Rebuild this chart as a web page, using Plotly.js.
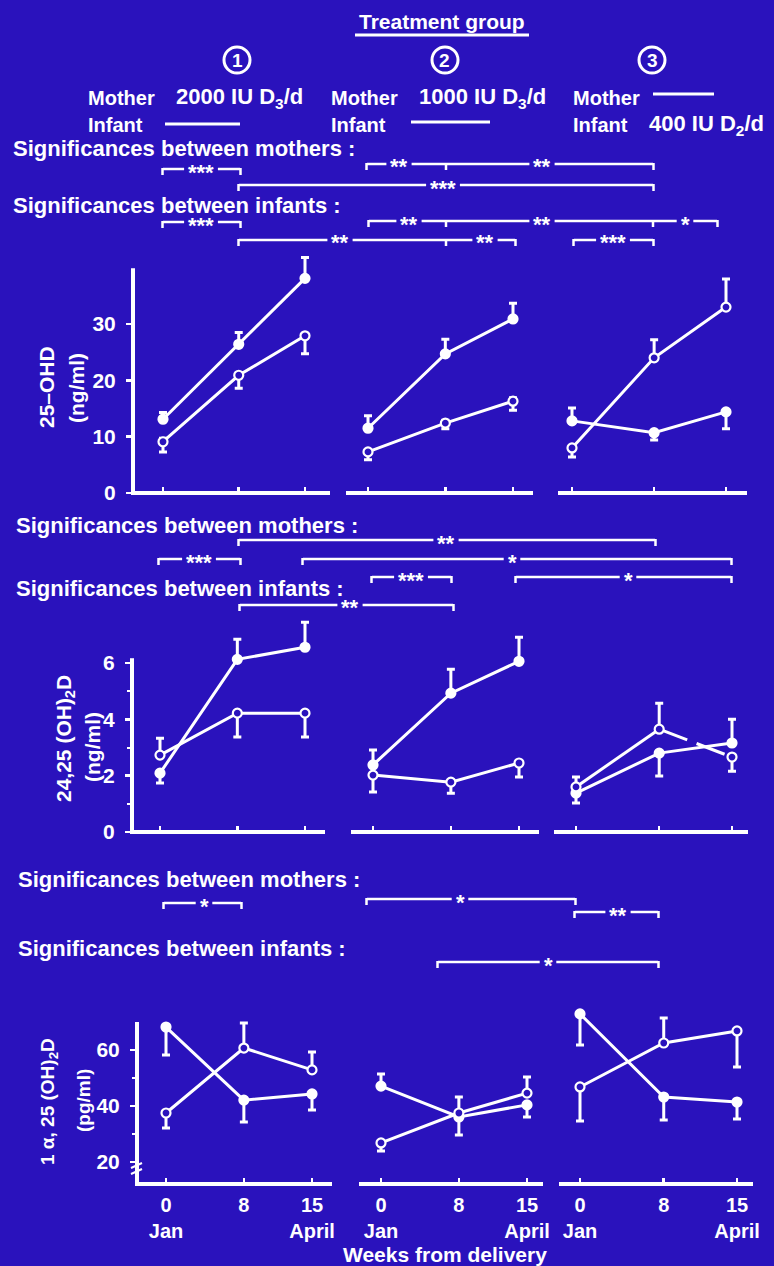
<!DOCTYPE html>
<html><head><meta charset="utf-8">
<script src="https://cdn.plot.ly/plotly-3.0.1.min.js"></script>
<style>html,body{margin:0;padding:0;background:#2a12bc;}#chart{width:774px;height:1266px;}</style>
</head><body><div id="chart"></div>
<script>
// ---------------- DATA ----------------
const WEEKS = [0, 8, 15];
const WEEK_TICK_TEXT = ['0<br>Jan', '8', '15<br>April'];
const GROUP_NUMBERS = ['1', '2', '3'];

// 25-OHD (ng/ml)
const ohdMotherG1 = [13.1, 26.4, 38.1], ohdMotherG1Up = [1.2, 2.1, 3.7], ohdMotherG1Down = [0, 0, 0];
const ohdInfantG1 = [9.1, 20.9, 27.9], ohdInfantG1Up = [0.6, 0, 0], ohdInfantG1Down = [1.8, 2.3, 3.2];
const ohdMotherG2 = [11.5, 24.7, 30.9], ohdMotherG2Up = [2.2, 2.6, 2.8], ohdMotherG2Down = [0, 0, 0];
const ohdInfantG2 = [7.3, 12.4, 16.3], ohdInfantG2Up = [0, 0.5, 0.6], ohdInfantG2Down = [1.4, 1.0, 1.6];
const ohdMotherG3 = [12.8, 10.7, 14.4], ohdMotherG3Up = [2.3, 0, 0], ohdMotherG3Down = [0, 1.3, 3.0];
const ohdInfantG3 = [8.0, 24.0, 33.0], ohdInfantG3Up = [0, 3.2, 5.0], ohdInfantG3Down = [1.6, 0, 0];

// 24,25(OH)2D (ng/ml)
const dhdMotherG1 = [2.09, 6.13, 6.56], dhdMotherG1Up = [0, 0.71, 0.89], dhdMotherG1Down = [0.35, 0, 0];
const dhdInfantG1 = [2.73, 4.22, 4.22], dhdInfantG1Up = [0.6, 0, 0], dhdInfantG1Down = [0, 0.85, 0.85];
const dhdMotherG2 = [2.38, 4.93, 6.06], dhdMotherG2Up = [0.53, 0.85, 0.85], dhdMotherG2Down = [0, 0, 0];
const dhdInfantG2 = [2.02, 1.77, 2.45], dhdInfantG2Up = [0, 0, 0], dhdInfantG2Down = [0.6, 0.39, 0.5];
const dhdMotherG3 = [1.38, 2.8, 3.16], dhdMotherG3Up = [0, 0, 0.84], dhdMotherG3Down = [0.35, 0.81, 0];
const dhdInfantG3 = [1.6, 3.65, 2.66], dhdInfantG3Up = [0.35, 0.92, 0], dhdInfantG3Down = [0, 0, 0.5];

// 1a,25(OH)2D (pg/ml)
const calMotherG1 = [68.2, 42.1, 44.3], calMotherG1Up = [0, 0, 0], calMotherG1Down = [10, 7.8, 5.7];
const calInfantG1 = [37.5, 60.7, 52.9], calInfantG1Up = [0, 8.9, 6.4], calInfantG1Down = [5.4, 0, 0];
const calMotherG2 = [47.1, 36.1, 40.4], calMotherG2Up = [4.3, 0, 0], calMotherG2Down = [0, 6.5, 4.3];
const calInfantG2 = [26.8, 37.5, 44.6], calInfantG2Up = [0, 5.7, 5.8], calInfantG2Down = [2.9, 0, 0];
const calMotherG3 = [72.9, 43.2, 41.4], calMotherG3Up = [0, 0, 0], calMotherG3Down = [11.1, 8.2, 6.0];
const calInfantG3 = [46.8, 62.5, 66.8], calInfantG3Up = [0, 8.9, 0], calInfantG3Down = [12.2, 0, 12.9];

const Y_TITLES = [['25–OHD', '(ng/ml)'], ['24,25 (OH)<sub>2</sub>D', '(ng/ml)'], ['1 α, 25 (OH)<sub>2</sub>D', '(pg/ml)']];
const Y_TICKS = [[0, 10, 20, 30], [0, 2, 4, 6], [20, 40, 60]];
const Y_MINOR = [[], [1, 3, 5], [30, 50]];

// ---------------- LAYOUT GEOMETRY ----------------
const W = 774, H = 1266;
const BG = '#2a12bc', FG = '#ffffff';
const FONT = 'Liberation Sans, Arial, sans-serif';
const px = x => x / W, py = y => 1 - y / H;

const ROWS = [
  {v1: 0, p1: 493, v2: 30, p2: 324, bottom: 493, top: 250, axisTop: 39.9},
  {v1: 0, p1: 832, v2: 6, p2: 663, bottom: 832, top: 612, axisTop: 6.17},
  {v1: 20, p1: 1162, v2: 60, p2: 1050, bottom: 1184, top: 1005, axisTop: 70}
];
const COLS = [
  [{p0: 163, p15: 305, L: 133, R: 330}, {p0: 368, p15: 513, L: 348, R: 533}, {p0: 572, p15: 726, L: 560, R: 747}],
  [{p0: 160, p15: 305, L: 132, R: 325}, {p0: 373, p15: 519, L: 353, R: 539}, {p0: 576, p15: 732, L: 556, R: 748}],
  [{p0: 166, p15: 312, L: 137, R: 332}, {p0: 381, p15: 527, L: 361, R: 543}, {p0: 580, p15: 737, L: 561, R: 753}]
];
const valAt = (r, p) => r.v1 + (r.p1 - p) * (r.v2 - r.v1) / (r.p1 - r.p2);

const SERIES = [
  [0, 0, true, ohdMotherG1, ohdMotherG1Up, ohdMotherG1Down], [0, 0, false, ohdInfantG1, ohdInfantG1Up, ohdInfantG1Down],
  [0, 1, true, ohdMotherG2, ohdMotherG2Up, ohdMotherG2Down], [0, 1, false, ohdInfantG2, ohdInfantG2Up, ohdInfantG2Down],
  [0, 2, true, ohdMotherG3, ohdMotherG3Up, ohdMotherG3Down], [0, 2, false, ohdInfantG3, ohdInfantG3Up, ohdInfantG3Down],
  [1, 0, true, dhdMotherG1, dhdMotherG1Up, dhdMotherG1Down], [1, 0, false, dhdInfantG1, dhdInfantG1Up, dhdInfantG1Down],
  [1, 1, true, dhdMotherG2, dhdMotherG2Up, dhdMotherG2Down], [1, 1, false, dhdInfantG2, dhdInfantG2Up, dhdInfantG2Down],
  [1, 2, true, dhdMotherG3, dhdMotherG3Up, dhdMotherG3Down], [1, 2, false, dhdInfantG3, dhdInfantG3Up, dhdInfantG3Down, 1],
  [2, 0, true, calMotherG1, calMotherG1Up, calMotherG1Down], [2, 0, false, calInfantG1, calInfantG1Up, calInfantG1Down],
  [2, 1, true, calMotherG2, calMotherG2Up, calMotherG2Down], [2, 1, false, calInfantG2, calInfantG2Up, calInfantG2Down],
  [2, 2, true, calMotherG3, calMotherG3Up, calMotherG3Down], [2, 2, false, calInfantG3, calInfantG3Up, calInfantG3Down]
];

const layout = {
  width: W, height: H, margin: {l: 0, r: 0, t: 0, b: 0},
  paper_bgcolor: BG, plot_bgcolor: BG, showlegend: false,
  font: {family: FONT, color: FG, size: 19, weight: 'bold'},
  shapes: [], annotations: []
};
const traces = [];
const sfx = n => (n === 1 ? '' : String(n));

for (let r = 0; r < 3; r++) {
  const R = ROWS[r];
  const yr = [valAt(R, R.bottom), valAt(R, R.top)];
  for (let c = 0; c < 3; c++) {
    const n = r * 3 + c + 1, C = COLS[r][c];
    const s = (C.p15 - C.p0) / 15;
    const xr = [(C.L - C.p0) / s, (C.R - C.p0) / s];
    layout['xaxis' + sfx(n)] = {
      domain: [px(C.L), px(C.R)], range: xr, anchor: 'y' + sfx(n),
      showline: false, zeroline: false, showgrid: false, fixedrange: true,
      tickmode: 'array', tickvals: WEEKS, ticktext: WEEK_TICK_TEXT,
      showticklabels: r === 2, ticks: 'inside', ticklen: 6, tickwidth: 2.5, tickcolor: FG,
      tickfont: {family: FONT, size: 20, color: FG, weight: 'bold'}, ticklabelstandoff: 7
    };
    const yax = {
      domain: [py(R.bottom), py(R.top)], range: yr, anchor: 'x' + sfx(n),
      showline: false, zeroline: false, showgrid: false, fixedrange: true
    };
    if (c === 0) {
      Object.assign(yax, {
        tickmode: 'array', tickvals: Y_TICKS[r], ticks: 'outside', ticklen: 6, tickwidth: 2.5, tickcolor: FG,
        tickfont: {family: FONT, size: 21, color: FG, weight: 'bold'}, ticklabelstandoff: 6,
        minor: {tickvals: Y_MINOR[r], ticks: 'outside', ticklen: 4, tickwidth: 2, tickcolor: FG}
      });
      layout.shapes.push({type: 'line', xref: 'x' + sfx(n) + ' domain', yref: 'y' + sfx(n) + ' domain',
        x0: 0, x1: 0, y0: 0, y1: (R.axisTop - yr[0]) / (yr[1] - yr[0]), line: {color: FG, width: 4}});
    } else {
      Object.assign(yax, {showticklabels: false, ticks: ''});
    }
    layout['yaxis' + sfx(n)] = yax;
    layout.shapes.push({type: 'line', xref: 'x' + sfx(n) + ' domain', yref: 'y' + sfx(n) + ' domain',
      x0: -2 / (C.R - C.L), x1: 1, y0: 0, y1: 0, line: {color: FG, width: 4}});
  }
}

SERIES.forEach(([r, c, mother, y, up, down, dashFrom]) => {
  const n = r * 3 + c + 1;
  const xa = 'x' + sfx(n), ya = 'y' + sfx(n);
  if (dashFrom !== undefined) {
    traces.push({type: 'scatter', mode: 'lines', x: WEEKS.slice(0, dashFrom + 1), y: y.slice(0, dashFrom + 1),
      xaxis: xa, yaxis: ya, line: {color: FG, width: 3}, hoverinfo: 'skip'});
    traces.push({type: 'scatter', mode: 'lines', x: WEEKS.slice(dashFrom), y: y.slice(dashFrom),
      xaxis: xa, yaxis: ya, line: {color: FG, width: 3, dash: '30px,10px'}, hoverinfo: 'skip'});
  }
  traces.push({
    type: 'scatter', mode: dashFrom !== undefined ? 'markers' : 'lines+markers',
    x: WEEKS, y: y, xaxis: xa, yaxis: ya, hoverinfo: 'skip',
    name: mother ? 'Mother' : 'Infant',
    line: {color: FG, width: 3},
    marker: {symbol: 'circle', size: 9, color: mother ? FG : BG, line: {color: FG, width: 2.2}},
    error_y: {type: 'data', symmetric: false, array: up, arrayminus: down, color: FG, thickness: 3, width: 4}
  });
});

// ---------------- ANNOTATIONS / DECOR ----------------
const A = layout.annotations, S = layout.shapes;
function txt(text, x, y, opts = {}) {
  A.push(Object.assign({xref: 'paper', yref: 'paper', x: px(x), y: py(y), text: text, showarrow: false,
    xanchor: 'center', yanchor: 'middle', font: {family: FONT, size: 20, color: FG, weight: 'bold'}}, opts));
}
function hline(x0, x1, y, w = 2.5) {
  S.push({type: 'line', xref: 'paper', yref: 'paper', x0: px(x0), x1: px(x1), y0: py(y), y1: py(y), line: {color: FG, width: w}});
}
function vline(x, y0, y1, w = 2.5) {
  S.push({type: 'line', xref: 'paper', yref: 'paper', x0: px(x), x1: px(x), y0: py(y0), y1: py(y1), line: {color: FG, width: w}});
}
const STAR_SIZE = 22;
function bracket(x0, x1, y, labels, mids = []) {
  const gaps = labels.map(([t, x]) => [x - t.length * 4.3 - 4, x + t.length * 4.3 + 4]).sort((a, b) => a[0] - b[0]);
  let cur = x0;
  gaps.forEach(([g0, g1]) => { if (g0 > cur) hline(cur, g0, y); cur = Math.max(cur, g1); });
  if (cur < x1) hline(cur, x1, y);
  vline(x0 - 0.5, y - 1, y + 6); vline(x1 + 0.5, y - 1, y + 6);
  mids.forEach(m => vline(m, y, y + 6));
  labels.forEach(([t, x]) => txt(t, x, y, {font: {family: FONT, size: STAR_SIZE, color: FG, weight: 'bold'}, yshift: -3}));
}

// Header
txt('Treatment group', 442, 21, {font: {family: FONT, size: 21, color: FG, weight: 'bold'}});
hline(355, 529, 35, 3);
[[237, 60], [445, 60], [652, 60]].forEach(([cx, cy], i) => {
  S.push({type: 'circle', xref: 'paper', yref: 'paper', x0: px(cx - 13), x1: px(cx + 13), y0: py(cy + 13), y1: py(cy - 13), line: {color: FG, width: 3}});
  txt(GROUP_NUMBERS[i], cx, cy + 1, {font: {family: FONT, size: 19, color: FG, weight: 'bold'}});
});
const DOSE_FONT = {family: FONT, size: 22, color: FG, weight: 'bold'};
txt('Mother', 86, 98, {xanchor: 'left'});
txt('2000 IU D<sub>3</sub>/d', 305, 98, {xanchor: 'right', font: DOSE_FONT});
txt('Infant', 86, 125, {xanchor: 'left'});
hline(165, 240, 124, 3);
txt('Mother', 329, 98, {xanchor: 'left'});
txt('1000 IU D<sub>3</sub>/d', 548, 98, {xanchor: 'right', font: DOSE_FONT});
txt('Infant', 329, 125, {xanchor: 'left'});
hline(411, 490, 122, 3);
txt('Mother', 571, 98, {xanchor: 'left'});
hline(653, 714, 94, 3);
txt('Infant', 571, 125, {xanchor: 'left'});
txt('400 IU D<sub>2</sub>/d', 766, 125, {xanchor: 'right', font: DOSE_FONT});

const SIG_FONT = {family: FONT, size: 22, color: FG, weight: 'bold'};
// Top significance block (25-OHD)
txt('Significances between mothers :', 11, 149, {xanchor: 'left', font: SIG_FONT});
bracket(163, 240, 169, [['***', 201]]);
bracket(367, 653, 164, [['**', 399], ['**', 542]], [446]);
bracket(239, 653, 185, [['***', 443]]);
txt('Significances between infants :', 11, 205, {xanchor: 'left', font: SIG_FONT});
bracket(163, 240, 222, [['***', 201]]);
bracket(369, 717, 221, [['**', 409], ['**', 542], ['*', 685]], [446, 653]);
bracket(239, 515, 240, [['**', 340], ['**', 485]], [446]);
bracket(574, 653, 240, [['***', 613]]);

// Middle significance block (24,25(OH)2D)
txt('Significances between mothers :', 14, 525, {xanchor: 'left', font: SIG_FONT});
bracket(239, 655, 540, [['**', 446]]);
bracket(159, 240, 559, [['***', 199]]);
bracket(303, 731, 559, [['*', 512]]);
bracket(372, 451, 577, [['***', 411]]);
bracket(516, 731, 577, [['*', 628]]);
txt('Significances between infants :', 14, 589, {xanchor: 'left', font: SIG_FONT});
bracket(240, 453, 605, [['**', 350]]);

// Bottom significance block (1a,25(OH)2D)
txt('Significances between mothers :', 16, 879, {xanchor: 'left', font: SIG_FONT});
bracket(164, 241, 903, [['*', 204]]);
bracket(367, 575, 899, [['*', 460]]);
bracket(575, 658, 912, [['**', 618]]);
txt('Significances between infants :', 16, 948, {xanchor: 'left', font: SIG_FONT});
bracket(438, 658, 962, [['*', 548]]);

// Y-axis titles
const YT_POS = [[[46, 387], [76, 388]], [[65, 739], [92, 747]], [[49, 1102], [83, 1101]]];
const YT_SIZE = [21, 21, 19];
Y_TITLES.forEach((lines, r) => lines.forEach((t, k) => {
  txt(t, YT_POS[r][k][0], YT_POS[r][k][1], {textangle: -90, font: {family: FONT, size: YT_SIZE[r], color: FG, weight: 'bold'}});
}));

// axis break marks on bottom-row y axis
S.push({type: 'line', xref: 'paper', yref: 'paper', x0: px(131), x1: px(142), y0: py(1168), y1: py(1163), line: {color: FG, width: 2}});
S.push({type: 'line', xref: 'paper', yref: 'paper', x0: px(131), x1: px(142), y0: py(1174), y1: py(1169), line: {color: FG, width: 2}});

// X-axis title
txt('Weeks from delivery', 445, 1254, {font: {family: FONT, size: 21, color: FG, weight: 'bold'}});

Plotly.newPlot('chart', traces, layout, {displayModeBar: false, staticPlot: true});
</script></body></html>
